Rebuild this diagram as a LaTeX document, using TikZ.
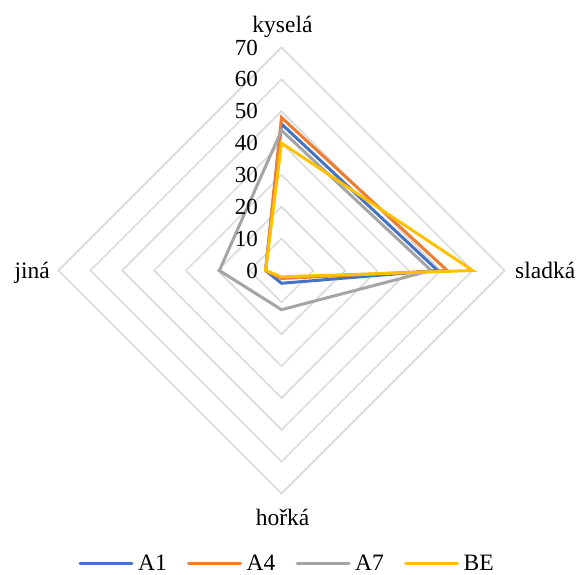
\documentclass[tikz,border=0pt]{standalone}
\usepackage{fontspec}
\setmainfont{Liberation Serif}
\definecolor{gridc}{HTML}{D9D9D9}
\definecolor{cA}{HTML}{4472C4}
\definecolor{cB}{HTML}{ED7D31}
\definecolor{cC}{HTML}{A5A5A5}
\definecolor{cD}{HTML}{FFC000}
\begin{document}
\begin{tikzpicture}[x=1pt,y=-1pt,
  gridline/.style={draw=gridc,line width=1.5pt},
  series/.style={line width=3pt,line join=miter},
  lab/.style={font=\fontsize{23.5}{27}\selectfont,inner sep=0pt},
  tick/.style={font=\fontsize{23}{27}\selectfont,inner sep=0pt,anchor=east},
  legline/.style={line width=3pt,line cap=round}]
\useasboundingbox (0,0) rectangle (578,574);
\def\cx{281.5}
\def\cy{270.5}
\def\s{3.186}
\coordinate (C) at (\cx,\cy);
% grid diamonds
\foreach \v in {10,20,...,70}{
  \draw[gridline] (\cx,\cy-\v*\s) -- (\cx+\v*\s,\cy) -- (\cx,\cy+\v*\s) -- (\cx-\v*\s,\cy) -- cycle;
}
% series: kysela, sladka, horka, jina
\foreach \col/\a/\b/\c/\d in {cA/46/49/4/5, cB/48/52/2.5/5, cC/44/47/12.3/19.5, cD/40/60/2/5}{
  \draw[series,draw=\col] (\cx,\cy-\a*\s) -- (\cx+\b*\s,\cy) -- (\cx,\cy+\c*\s) -- (\cx-\d*\s,\cy) -- cycle;
}
% tick labels
\foreach \v in {0,10,...,70}{
  \node[tick] (t\v) at (258,\cy-\v*\s) {\v};
}
% axis labels
\node[lab,anchor=base] (kys) at (282.5,32) {kyselá};
\node[lab,anchor=base west] (sla) at (515,278) {sladká};
\node[lab,anchor=base] (hor) at (282.5,525) {hořká};
\node[lab,anchor=base east] (jin) at (50,278) {jiná};
% legend
\foreach \col/\name/\x in {cA/A1/80, cB/A4/188.5, cC/A7/297, cD/BE/405.5}{
  \coordinate (l\name) at (\x,563);
  \coordinate (r\name) at (\x+52,563);
  \draw[legline,draw=\col] (l\name) -- (r\name);
  \node[lab,anchor=base west] (n\name) at (\x+58,570) {\name};
}
\end{tikzpicture}
\end{document}
